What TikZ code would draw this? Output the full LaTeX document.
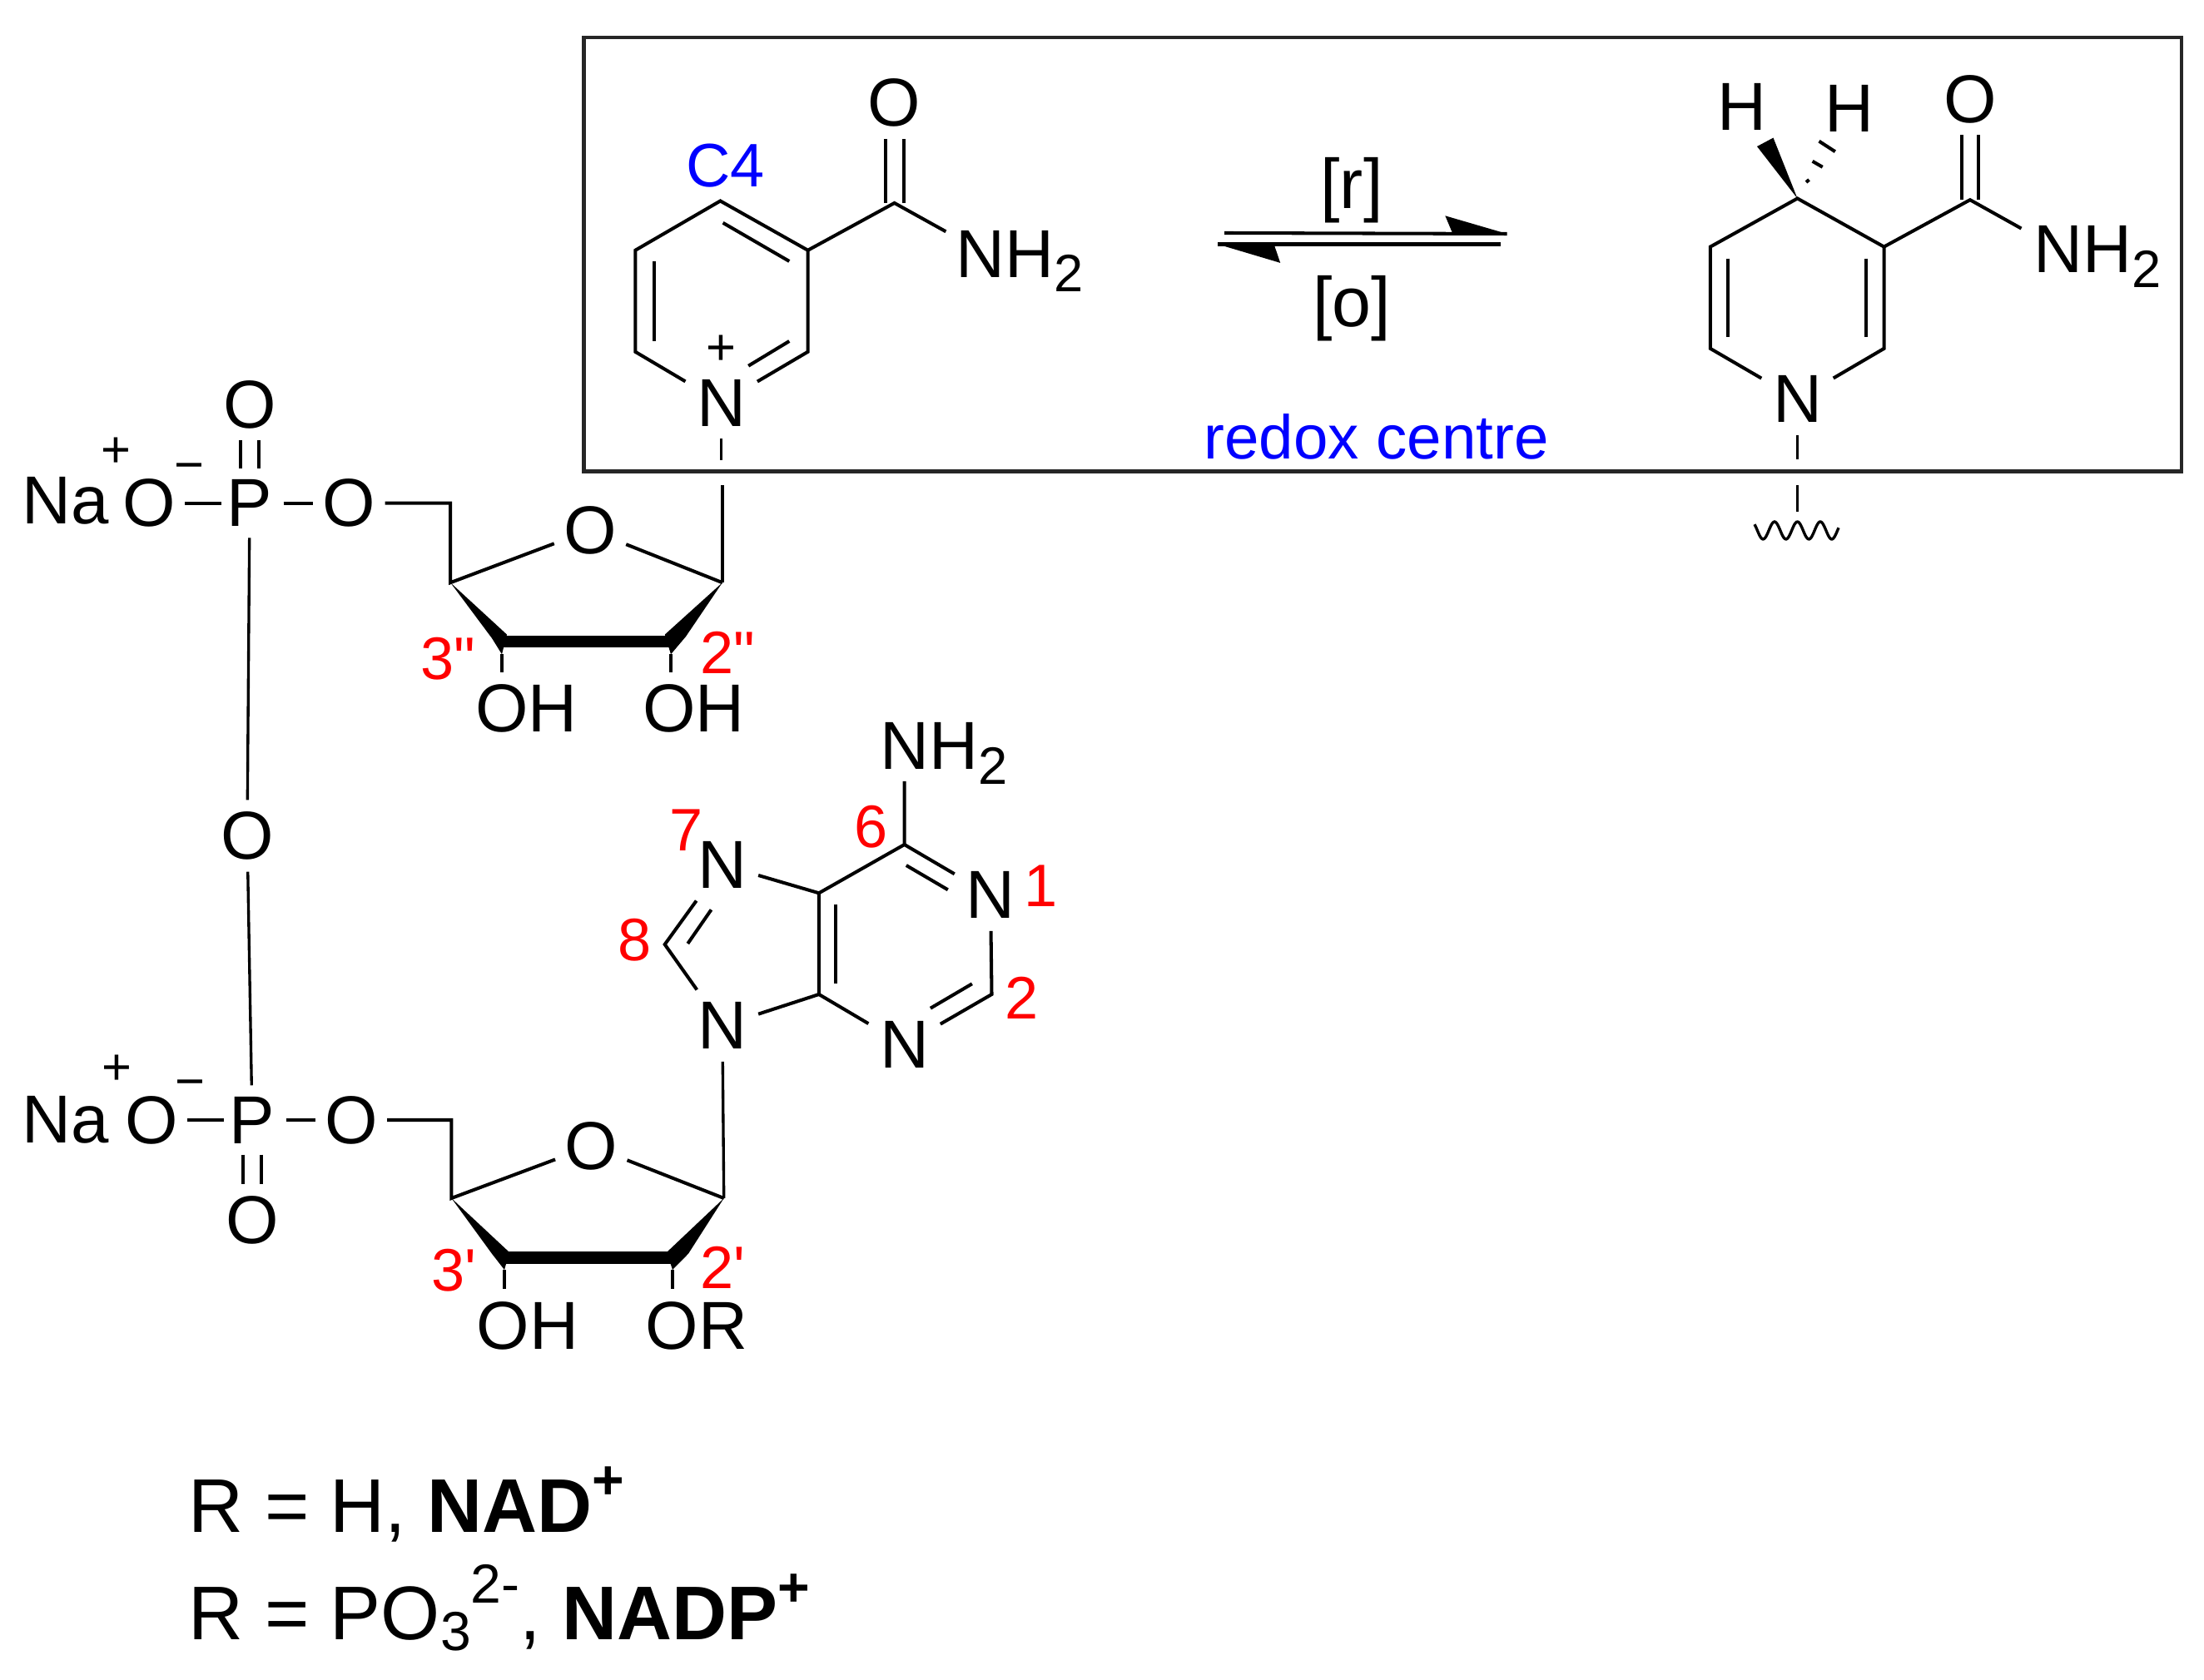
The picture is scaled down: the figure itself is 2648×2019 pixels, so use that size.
\documentclass[tikz,border=0pt]{standalone}
\usepackage{fontspec}
\setmainfont{Liberation Sans}
\newfontfamily\plainf{Liberation Sans}
\definecolor{lblred}{RGB}{255,0,0}
\definecolor{lblblue}{RGB}{0,0,255}
\newcommand{\fmain}{\fontsize{23.2}{23.2}\selectfont}
\newcommand{\fred}{\fontsize{20.5}{20.5}\selectfont\plainf}
\newcommand{\fblue}{\fontsize{21.2}{21.2}\selectfont}
\newcommand{\fchg}{\fontsize{17.5}{17.5}\selectfont}
\newcommand{\fbig}{\fontsize{26}{26}\selectfont}
\newcommand{\subtwo}{\raisebox{-5pt}{\fontsize{18}{18}\selectfont 2}}
\tikzset{
  bond/.style={line width=1.15pt,line cap=butt},
  atom/.style={rectangle,inner sep=0pt,minimum width=0.85cm,minimum height=0.85cm,font=\fmain},
  patom/.style={atom,minimum width=0.8cm,minimum height=0.82cm},
  grp/.style={inner sep=0pt,font=\fmain,anchor=base west},
  chg/.style={inner sep=0pt,font=\fchg,anchor=base},
  redl/.style={inner sep=0pt,font=\fred,text=lblred,anchor=base},
  redw/.style={inner sep=0pt,font=\fred,text=lblred,anchor=base west},
  bluel/.style={inner sep=0pt,text=lblblue,anchor=base},
  cond/.style={inner sep=0pt,font=\fontsize{24}{24}\selectfont,anchor=base},
  hatom/.style={inner sep=0pt,font=\fmain,anchor=base},
  legend/.style={inner sep=0pt,font=\fbig,anchor=base west},
  bold bond/.style={line width=4.2pt},
  stub/.style={line width=0.95pt}
}
\begin{document}
\begin{tikzpicture}[x=0.01cm,y=-0.01cm]
\useasboundingbox (0,0) rectangle (2648,2019);
% frame
\coordinate (boxa) at (701.5,45); \coordinate (boxb) at (2620.8,566.6);
\draw[line width=1.2pt,draw=black!85] (boxa) rectangle (boxb);

% ---------- oxidised nicotinamide
\coordinate (a4) at (865.4,241.5); \coordinate (a3) at (970.6,300.8);
\coordinate (a2) at (970.6,422.8); \coordinate (a6) at (763.3,422.8);
\coordinate (a5) at (763.3,300.8); \coordinate (aco) at (1074.6,244);
\node[atom] (an) at (866.7,484) {N};
\node[atom] (ao) at (1074.6,123.6) {O};
\node[grp] (anh) at (1148,333.4) {NH\subtwo};
\coordinate (anhe) at (1136.4,278.3);
\node[chg] (aplus) at (866.7,439) {+};
\node[bluel,font=\fontsize{21}{21}\selectfont] (ac4) at (871.5,225) {C4};
\draw[bond] (an) -- (a6) -- (a5) -- (a4) -- (a3) -- (a2) -- (an);
\draw[bond] (a3) -- (aco) -- (anhe);
\draw[bond] ([xshift=-0.11cm]aco) -- ([xshift=-0.11cm]ao.south);
\draw[bond] ([xshift=0.11cm]aco) -- ([xshift=0.11cm]ao.south);
\coordinate (ai1) at (868.6,267.8); \coordinate (ai2) at (948.3,314);
\coordinate (ai3) at (785.7,314); \coordinate (ai4) at (785.7,410);
\coordinate (ai5) at (948.3,410); \coordinate (ai6) at (899.2,439.7);
\draw[bond] (ai1) -- (ai2);
\draw[bond] (ai3) -- (ai4);
\draw[bond] (ai5) -- (ai6);
\coordinate (astub) at (866.7,552.6);
\draw[stub] (an) -- (astub);

% ---------- reaction arrows
\node[cond] (rr) at (1624,251) {[r]};
\node[cond] (ro) at (1624,393) {[o]};
\coordinate (ar1) at (1471,280); \coordinate (ar2) at (1810.6,281);
\coordinate (ar3) at (1736.3,259.3); \coordinate (ar4) at (1745,280);
\coordinate (ar5) at (1463,293.5); \coordinate (ar6) at (1802.8,293.5);
\coordinate (ar7) at (1538.2,315.9); \coordinate (ar8) at (1530.6,293.5);
\draw[bond] (ar1) -- (ar2);
\draw[bond] (ar5) -- (ar6);
\fill (ar2) -- (ar3) -- (ar4) -- cycle;
\fill (ar5) -- (ar7) -- (ar8) -- cycle;
\node[bluel,font=\fblue] (redox) at (1653.5,552) {redox centre};

% ---------- reduced nicotinamide
\coordinate (b4) at (2159.5,238.5); \coordinate (b3) at (2263.5,296.6);
\coordinate (b2) at (2263.5,418.9); \coordinate (b6) at (2054.9,418.9);
\coordinate (b5) at (2054.9,296.6); \coordinate (bco) at (2366.9,240.2);
\node[atom] (bn) at (2159.5,479.8) {N};
\node[atom] (bo) at (2366.9,119) {O};
\node[grp] (bnh) at (2442.5,327.7) {NH\subtwo};
\coordinate (bnhe) at (2428.5,274.6);
\draw[bond] (bn) -- (b6) -- (b5) -- (b4) -- (b3) -- (b2) -- (bn);
\draw[bond] (b3) -- (bco) -- (bnhe);
\draw[bond] ([xshift=-0.1cm]bco) -- ([xshift=-0.1cm]bo.south);
\draw[bond] ([xshift=0.1cm]bco) -- ([xshift=0.1cm]bo.south);
\coordinate (bi1) at (2076,310.7); \coordinate (bi2) at (2076,405.2);
\coordinate (bi3) at (2241.7,310.7); \coordinate (bi4) at (2241.7,405.2);
\draw[bond] (bi1) -- (bi2);
\draw[bond] (bi3) -- (bi4);
\node[hatom] (bh1) at (2093,156.5) {H};
\node[hatom] (bh2) at (2221.5,159) {H};
\coordinate (bw1) at (2111,176); \coordinate (bw2) at (2130.5,165.6);
\fill (b4) -- (bw1) -- (bw2) -- cycle;
\coordinate (bh1a) at (2170,219); \coordinate (bh1b) at (2173.5,216);
\coordinate (bh2a) at (2177.6,193.8); \coordinate (bh2b) at (2189.7,200.8);
\coordinate (bh3a) at (2185.5,169.7); \coordinate (bh3b) at (2204.8,182.2);
\draw[bond] (bh1a) -- (bh1b);
\draw[bond] (bh2a) -- (bh2b);
\draw[bond] (bh3a) -- (bh3b);
\coordinate (bs1) at (2159.5,552.4); \coordinate (bs2) at (2159.5,583.5);
\coordinate (bs3) at (2159.5,614.6);
\draw[stub] (bn) -- (bs1);
\draw[stub] (bs2) -- (bs3);
\draw[line width=0.95pt] plot[domain=2108:2209,samples=81,smooth,variable=\x]
  ({\x},{637.5-10.5*cos((\x-2159.5)/27.5*360)});

% ---------- upper phosphate + sugar
\node[grp] (una) at (25.5,630) {Na};
\node[atom] (uol) at (178.8,604.6) {O};
\node[patom] (up) at (300,604.6) {P};
\node[atom] (uor) at (419.4,604.6) {O};
\node[atom] (uot) at (300,486) {O};
\node[atom] (omid) at (297,1004.5) {O};
\node[chg] (uplus) at (139.4,562) {+};
\node[chg] (uminus) at (227,580) {−};
\draw[bond] (uol) -- ([xshift=0.067cm]up.west);
\draw[bond] (up) -- (uor);
\draw[bond] ([xshift=-0.11cm]up.north) -- ([xshift=-0.11cm]uot.south);
\draw[bond] ([xshift=0.11cm]up.north) -- ([xshift=0.11cm]uot.south);
\draw[stub] (up) -- (omid);
\coordinate (ucm) at (541.2,604.6); \coordinate (us4) at (541.2,700.2);
\coordinate (us1) at (867.9,700.2);
\node[atom] (usO) at (709,637) {O};
\draw[bond] (uor) -- (ucm) -- (us4) -- (usO) -- (us1);
\coordinate (astub2) at (867.9,583.5);
\draw[bond] (astub2) -- (us1);
\coordinate (uw1) at (591,767); \coordinate (uw2) at (603,786.3); \coordinate (uw3) at (609,762.6);
\coordinate (uw4) at (798.8,762.6); \coordinate (uw5) at (806,786.3); \coordinate (uw6) at (824,765);
\coordinate (ub1) at (604,771); \coordinate (ub2) at (804,771);
\fill (us4) -- (uw1) -- (uw2) -- (uw3) -- cycle;
\fill (us1) -- (uw4) -- (uw5) -- (uw6) -- cycle;
\draw[bold bond] (ub1) -- (ub2);
\coordinate (ue1) at (603,808); \coordinate (ue2) at (806,808);
\draw[bond] (uw2) -- (ue1);
\draw[bond] (uw5) -- (ue2);
\node[grp] (uoh1) at (570.5,880) {OH};
\node[grp] (uoh2) at (771.8,880) {OH};
\node[redw] (u3) at (505,817) {3"};
\node[redw] (u2) at (841,810) {2"};

% ---------- lower phosphate + sugar
\node[grp] (lna) at (25.5,1373) {Na};
\node[atom] (lol) at (181.8,1346) {O};
\node[patom] (lp) at (303,1346) {P};
\node[atom] (lor) at (421.8,1346) {O};
\node[atom] (lob) at (303,1466.7) {O};
\node[chg] (lplus) at (140,1303.5) {+};
\node[chg] (lminus) at (228,1320.5) {−};
\draw[stub] (omid) -- (lp);
\draw[bond] (lol) -- ([xshift=0.067cm]lp.west);
\draw[bond] (lp) -- (lor);
\draw[bond] ([xshift=-0.11cm]lp.south) -- ([xshift=-0.11cm]lob.north);
\draw[bond] ([xshift=0.11cm]lp.south) -- ([xshift=0.11cm]lob.north);
\coordinate (lcm) at (542.4,1346); \coordinate (ls4) at (542.4,1440);
\coordinate (ls1) at (869.7,1440);
\node[atom] (lsO) at (710.3,1377.3) {O};
\draw[bond] (lor) -- (lcm) -- (ls4) -- (lsO) -- (ls1);
\coordinate (lw1) at (591,1506.7); \coordinate (lw2) at (606,1526); \coordinate (lw3) at (612,1505);
\coordinate (lw4) at (801,1505); \coordinate (lw5) at (808,1526); \coordinate (lw6) at (827,1506.7);
\coordinate (lb1) at (607,1511.5); \coordinate (lb2) at (808,1511.5);
\fill (ls4) -- (lw1) -- (lw2) -- (lw3) -- cycle;
\fill (ls1) -- (lw4) -- (lw5) -- (lw6) -- cycle;
\draw[bold bond] (lb1) -- (lb2);
\coordinate (le1) at (606,1549.3); \coordinate (le2) at (808,1549.3);
\draw[bond] (lw2) -- (le1);
\draw[bond] (lw5) -- (le2);
\node[grp] (loh) at (572,1621) {OH};
\node[grp] (lorr) at (775,1621) {OR};
\node[redw] (l3) at (518,1551) {3'};
\node[redw] (l2) at (841,1548) {2'};

% ---------- adenine
\coordinate (d6) at (1086.6,1015); \coordinate (d5) at (983.9,1073.3);
\coordinate (d4) at (983.9,1195); \coordinate (d2) at (1191.5,1195);
\coordinate (d8) at (798.7,1135);
\node[atom] (dn1) at (1190,1075.7) {N};
\node[atom] (dn3) at (1086.6,1255.7) {N};
\node[atom] (dn7) at (867.9,1039.3) {N};
\node[atom] (dn9) at (867.9,1232.7) {N};
\node[grp] (dnh) at (1057,925) {NH\subtwo};
\coordinate (dnhe) at (1086.6,939);
\draw[bond] (dnhe) -- (d6) -- (d5) -- (d4) -- (dn3) -- (d2) -- (dn1) -- (d6);
\draw[bond] (d5) -- (dn7) -- (d8) -- (dn9) -- (d4);
\draw[stub] (dn9) -- (ls1);
\coordinate (di1) at (1088.8,1040); \coordinate (di2) at (1138.8,1069.3);
\coordinate (di3) at (1004,1087.3); \coordinate (di4) at (1004,1181.7);
\coordinate (di5) at (854.5,1093.3); \coordinate (di6) at (826.3,1134);
\coordinate (di7) at (1117.9,1211.7); \coordinate (di8) at (1167.9,1182.3);
\draw[bond] (di1) -- (di2);
\draw[bond] (di3) -- (di4);
\draw[bond] (di5) -- (di6);
\draw[bond] (di7) -- (di8);
\node[redl] (n7) at (825,1022.7) {7};
\node[redl] (n6) at (1047,1018.3) {6};
\node[redl] (n1) at (1251,1090) {1};
\node[redl] (n8) at (763,1155) {8};
\node[redl] (n2) at (1228,1225) {2};

% ---------- legend
\node[legend] (leg1) at (226,1841.7) {R = H, \textbf{NAD\raisebox{11.4pt}{\fontsize{18.8}{18.8}\selectfont +}}};
\node[legend] (leg2) at (226,1970.7) {R = PO\raisebox{-3.5pt}{\fontsize{18.8}{18.8}\selectfont 3}\raisebox{12.5pt}{\fontsize{18.8}{18.8}\selectfont 2-}, \textbf{NADP\raisebox{11.4pt}{\fontsize{18.8}{18.8}\selectfont +}}};
\end{tikzpicture}
\end{document}
